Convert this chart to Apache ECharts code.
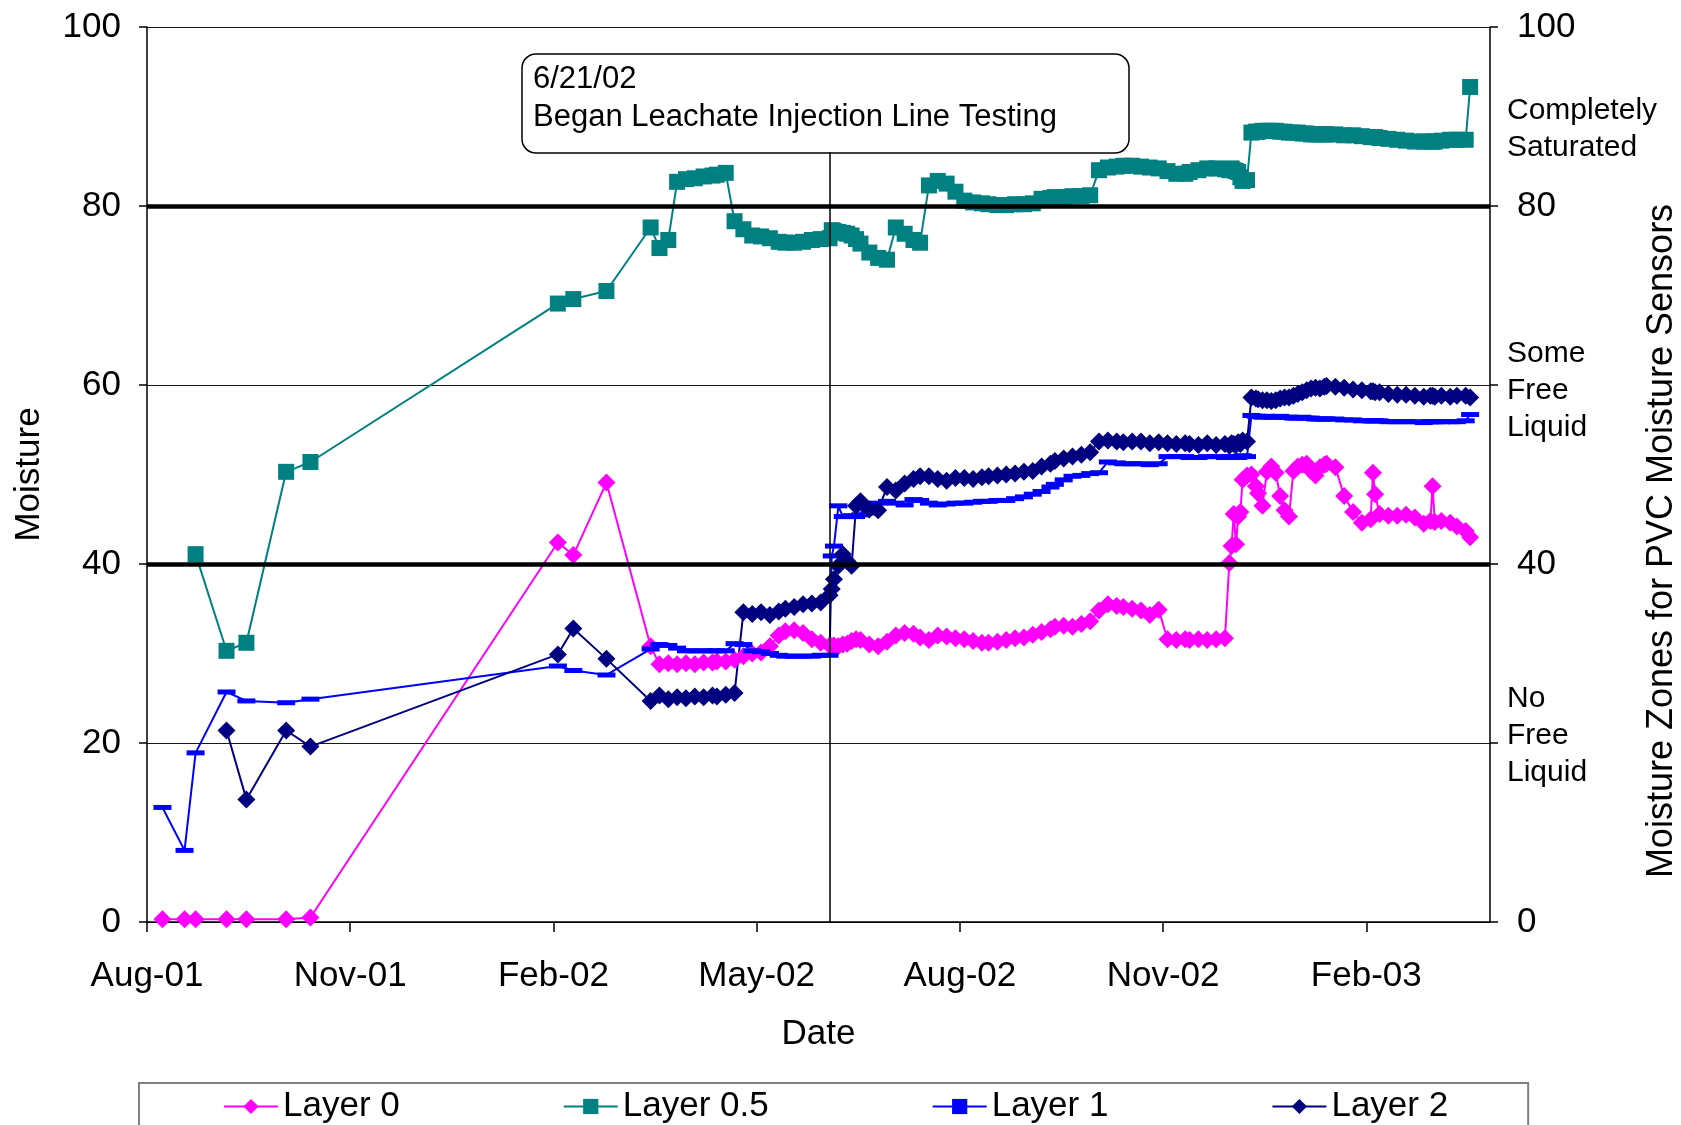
<!DOCTYPE html>
<html>
<head>
<meta charset="utf-8">
<script src="https://cdn.jsdelivr.net/npm/echarts@6/dist/echarts.min.js"></script>
<style>
  html, body { margin: 0; padding: 0; background: #ffffff; }
  #chart { width: 1681px; height: 1125px; }
</style>
</head>
<body>
<div id="chart"></div>
<script>
// Sensor reading dates (manual readings in 2001/early 2002, then the logger period)
const readingDates = [
  '2001-08-23','2001-09-02','2001-09-07','2001-09-21','2001-09-30','2001-10-18','2001-10-29','2002-02-18','2002-02-25','2002-03-12',
  '2002-04-01','2002-04-05','2002-04-09','2002-04-13','2002-04-17','2002-04-21','2002-04-25','2002-04-29',
  '2002-05-01','2002-05-05','2002-05-09','2002-05-13','2002-05-17','2002-05-21','2002-05-25','2002-05-29',
  '2002-06-01','2002-06-05','2002-06-09','2002-06-13','2002-06-17','2002-06-21','2002-06-22','2002-06-23','2002-06-25','2002-06-27','2002-06-29',
  '2002-07-01','2002-07-03','2002-07-05','2002-07-09','2002-07-13','2002-07-17','2002-07-21','2002-07-25','2002-07-29',
  '2002-08-01','2002-08-05','2002-08-09','2002-08-13','2002-08-17','2002-08-21','2002-08-25','2002-08-29',
  '2002-09-01','2002-09-05','2002-09-09','2002-09-13','2002-09-17','2002-09-21','2002-09-25','2002-09-29',
  '2002-10-01','2002-10-05','2002-10-09','2002-10-13','2002-10-17','2002-10-21','2002-10-25','2002-10-29',
  '2002-11-01','2002-11-05','2002-11-09','2002-11-13','2002-11-17','2002-11-21','2002-11-25','2002-11-29',
  '2002-12-01','2002-12-05','2002-12-09','2002-12-13','2002-12-17','2002-12-19','2002-12-20','2002-12-21','2002-12-22','2002-12-23','2002-12-24','2002-12-25','2002-12-27','2002-12-29','2002-12-31',
  '2003-01-01','2003-01-03','2003-01-05','2003-01-07','2003-01-09','2003-01-11','2003-01-13','2003-01-15','2003-01-17','2003-01-19','2003-01-21','2003-01-23','2003-01-25','2003-01-27','2003-01-29','2003-01-31',
  '2003-02-01','2003-02-05','2003-02-09','2003-02-13','2003-02-17','2003-02-21','2003-02-22','2003-02-23','2003-02-25',
  '2003-03-01','2003-03-05','2003-03-09','2003-03-13','2003-03-17','2003-03-20','2003-03-21','2003-03-22','2003-03-25','2003-03-29',
  '2003-04-01','2003-04-05','2003-04-07'
];

const layer0 = [
  0.3, 0.3, 0.3, 0.3, 0.3, 0.3, 0.5, 42.4, 41.0, 49.1,
  30.8, 28.8, 28.9, 28.8, 28.9, 28.8, 29.0, 29.0,
  29.1, 29.1, 29.3, 29.7, 30.0, 30.1, 30.8, 32.0,
  32.5, 32.6, 32.3, 31.6, 31.2, 30.9, 30.8, 30.9, 30.8, 31.0, 31.1,
  31.4, 31.6, 31.5, 31.0, 30.8, 31.3, 32.0, 32.3, 32.2,
  31.8, 31.5, 32.0, 31.9, 31.7, 31.6, 31.4, 31.2,
  31.2, 31.3, 31.5, 31.7, 31.8, 32.1, 32.4, 32.7,
  33.0, 33.1, 33.0, 33.3, 33.6, 34.8, 35.5, 35.3,
  35.2, 35.0, 34.8, 34.3, 34.9, 31.6, 31.5, 31.6,
  31.5, 31.6, 31.5, 31.6, 31.7, 40.1, 42.0, 45.6, 42.2, 45.3, 45.8, 49.4, 49.9, 50.0, 48.7,
  47.9, 46.5, 50.3, 50.9, 50.2, 47.6, 46.0, 45.3, 50.4, 50.9, 51.1, 51.2, 50.4, 49.9, 50.8, 51.1,
  51.2, 50.8, 47.6, 45.8, 44.6, 45.0, 50.2, 47.8, 45.6,
  45.4, 45.4, 45.5, 45.2, 44.5, 44.8, 48.7, 44.7, 44.8, 44.6,
  44.2, 43.7, 43.0
];

const layer05 = [
  null, null, 41.1, 30.3, 31.2, 50.3, 51.4, 69.1, 69.6, 70.5,
  77.6, 75.3, 76.2, 82.7, 83.0, 83.1, 83.3, 83.4,
  83.5, 83.7, 78.3, 77.4, 76.7, 76.6, 76.4, 76.0,
  75.9, 75.9, 76.0, 76.2, 76.3, 76.4, 77.3, 77.2, 77.1, 77.0, 76.9,
  76.7, 76.3, 75.8, 74.8, 74.2, 74.0, 77.6, 76.9, 76.2,
  75.9, 82.3, 82.8, 82.5, 81.6, 80.6, 80.4, 80.3,
  80.2, 80.1, 80.1, 80.2, 80.2, 80.3, 80.8, 80.9,
  81.0, 81.0, 81.1, 81.1, 81.2, 84.0, 84.3, 84.4,
  84.5, 84.5, 84.4, 84.3, 84.2, 83.9, 83.6, 83.6,
  83.8, 84.0, 84.2, 84.2, 84.1, 84.0, 84.2, 84.0, 83.9, 83.8, 83.2, 82.8, 82.9, 88.2, 88.3,
  88.3, 88.4, 88.4, 88.4, 88.4, 88.3, 88.3, 88.2, 88.2, 88.2, 88.1, 88.1, 88.0, 88.0, 88.0, 88.0,
  88.0, 88.0, 87.9, 87.9, 87.8, 87.7, 87.7, 87.7, 87.6,
  87.5, 87.4, 87.3, 87.2, 87.2, 87.2, 87.2, 87.2, 87.3, 87.4,
  87.4, 87.4, 93.3
];

const layer1 = [
  12.8, 8.0, 18.9, 25.7, 24.7, 24.5, 24.9, 28.6, 28.1, 27.6,
  30.5, 31.0, 30.9, 30.6, 30.3, 30.3, 30.3, 30.3,
  30.3, 30.3, 31.1, 31.0, 30.3, 30.2, 30.0, 29.8,
  29.7, 29.7, 29.7, 29.7, 29.8, 29.8, 40.9, 42.0, 46.5, 45.3, 45.3,
  45.4, 45.3, 45.5, 45.7, 46.8, 47.0, 46.8, 46.6, 47.2,
  47.1, 46.8, 46.6, 46.7, 46.8, 46.8, 46.9, 47.0,
  47.0, 47.1, 47.1, 47.3, 47.5, 47.8, 48.1, 48.6,
  48.9, 49.4, 49.8, 49.9, 50.1, 50.2, 51.4, 51.3,
  51.2, 51.2, 51.2, 51.1, 51.2, 52.0, 52.0, 52.0,
  51.9, 51.9, 52.0, 52.0, 51.9, 52.0, 51.9, 52.0, 52.0, 51.9, 52.0, 52.1, 52.0, 56.6, 56.5,
  56.5, 56.4, 56.5, 56.4, 56.4, 56.5, 56.4, 56.4, 56.3, 56.3, 56.4, 56.3, 56.3, 56.2, 56.2, 56.2,
  56.2, 56.2, 56.1, 56.1, 56.0, 56.0, 56.0, 56.0, 56.0,
  55.9, 55.9, 55.9, 55.9, 55.8, 55.9, 55.9, 55.9, 55.9, 55.9,
  55.9, 56.0, 56.7
];

const layer2 = [
  null, null, null, 21.4, 13.7, 21.4, 19.6, 29.9, 32.8, 29.4,
  24.7, 25.3, 24.9, 25.1, 25.0, 25.2, 25.1, 25.3,
  25.2, 25.4, 25.6, 34.6, 34.4, 34.6, 34.3, 34.7,
  35.0, 35.2, 35.5, 35.6, 35.7, 36.5, 37.2, 38.3, 39.8, 41.1, 40.3,
  39.8, 46.5, 47.0, 46.1, 46.0, 48.6, 48.2, 49.0, 49.5,
  49.8, 49.8, 49.5, 49.3, 49.6, 49.6, 49.5, 49.7,
  49.8, 49.9, 50.0, 50.1, 50.3, 50.4, 50.9, 51.2,
  51.5, 51.8, 52.0, 52.2, 52.5, 53.7, 53.8, 53.7,
  53.6, 53.7, 53.7, 53.5, 53.6, 53.5, 53.4, 53.5,
  53.4, 53.3, 53.5, 53.3, 53.4, 53.2, 53.5, 53.4, 53.3, 53.6, 53.4, 53.8, 53.7, 58.6, 58.5,
  58.4, 58.3, 58.3, 58.2, 58.3, 58.5, 58.6, 58.6, 58.8, 59.0, 59.2, 59.4, 59.6, 59.7, 59.6, 59.8,
  59.9, 59.8, 59.7, 59.5, 59.4, 59.3, 59.3, 59.2, 59.2,
  59.0, 58.9, 58.9, 58.8, 58.7, 58.8, 58.8, 58.7, 58.8, 58.7,
  58.8, 58.8, 58.6
];

const seriesNames = ['Layer 0', 'Layer 0.5', 'Layer 1', 'Layer 2'];

// Date axis: start, end and major tick dates (every 92 days)
const axisStart = '2001-08-16';
const axisEnd = '2003-04-16';
const tickDates = ['2001-08-16','2001-11-16','2002-02-16','2002-05-19','2002-08-19','2002-11-19','2003-02-19'];
const monthNames = ['Jan','Feb','Mar','Apr','May','Jun','Jul','Aug','Sep','Oct','Nov','Dec'];

// Moisture axis and zone boundaries
const rightAxisLabels = [0, 40, 80, 100];
const zoneBoundaries = [40, 80];
const zoneLabels = ['Completely\nSaturated', 'Some\nFree\nLiquid', 'No\nFree\nLiquid'];

// Leachate injection annotation
const injectionDate = '2002-06-21';
const calloutBase = 86;
const calloutLines = ['6/21/02', 'Began Leachate Injection Line Testing'];

const FONT = '"Liberation Sans", Arial, Helvetica, sans-serif';

function toUTC(s) {
  const p = s.split('-').map(Number);
  return Date.UTC(p[0], p[1] - 1, p[2]);
}
const origin = toUTC(axisStart);
function dayNum(s) { return Math.round((toUTC(s) - origin) / 86400000); }
function dayLabel(v) {
  const d = new Date(origin + v * 86400000);
  return monthNames[d.getUTCMonth()] + '-' + String(d.getUTCFullYear() % 100).padStart(2, '0');
}
function pairs(values) {
  const out = [];
  readingDates.forEach((d, i) => { if (values[i] !== null) out.push([dayNum(d), values[i]]); });
  return out;
}

const tickDays = tickDates.map(dayNum);
const injectionDay = dayNum(injectionDate);

const chart = echarts.init(document.getElementById('chart'), null, { renderer: 'canvas' });

const baseSeries = {
  type: 'line',
  showSymbol: true,
  showAllSymbol: true,
  connectNulls: true,
  animation: false,
  emphasis: { disabled: true }
};

function layerSeries(i, values, color, symbol, size) {
  return Object.assign({}, baseSeries, {
    name: seriesNames[i],
    data: pairs(values),
    color: color,
    symbol: symbol,
    symbolSize: size,
    itemStyle: { color: color },
    lineStyle: { width: 2, color: color }
  });
}

const option = {
  backgroundColor: '#ffffff',
  animation: false,
  textStyle: { fontFamily: FONT, color: '#000' },
  grid: { left: 147, top: 27, width: 1343, height: 895, containLabel: false },
  legend: {
    data: seriesNames,
    left: 139,
    top: 1083,
    padding: [6, 80, 40, 84],
    itemGap: 163,
    itemWidth: 54,
    itemHeight: 19,
    borderColor: '#808080',
    borderWidth: 2,
    selectedMode: false,
    textStyle: { fontSize: 35, fontFamily: FONT, color: '#000' }
  },
  xAxis: {
    type: 'value',
    min: dayNum(axisStart),
    max: dayNum(axisEnd),
    name: 'Date',
    nameLocation: 'middle',
    nameGap: 95,
    nameTextStyle: { fontSize: 35, fontFamily: FONT, color: '#000' },
    axisLine: { show: true, onZero: false, lineStyle: { color: '#000', width: 1.5 } },
    axisTick: { show: true, length: 10, customValues: tickDays, lineStyle: { color: '#000', width: 1.5 } },
    axisLabel: {
      customValues: tickDays,
      formatter: dayLabel,
      fontSize: 35, fontFamily: FONT, color: '#000', margin: 37
    },
    splitLine: { show: false }
  },
  yAxis: [
    {
      type: 'value', position: 'left', min: 0, max: 100, interval: 20,
      name: 'Moisture', nameLocation: 'middle', nameGap: 100, nameRotate: 90,
      nameTextStyle: { fontSize: 35, fontFamily: FONT, color: '#000' },
      axisLine: { show: true, lineStyle: { color: '#000', width: 1.5 } },
      axisTick: { show: true, length: 8, lineStyle: { color: '#000', width: 1.5 } },
      axisLabel: { fontSize: 35, fontFamily: FONT, color: '#000', margin: 26 },
      splitLine: { show: true, lineStyle: { color: '#1a1a1a', width: 1.2 } }
    },
    {
      type: 'value', position: 'right', min: 0, max: 100, interval: 20,
      axisLine: { show: true, lineStyle: { color: '#000', width: 1.5 } },
      axisTick: { show: true, length: 8, lineStyle: { color: '#000', width: 1.5 } },
      axisLabel: {
        fontSize: 35, fontFamily: FONT, color: '#000', margin: 27,
        formatter: v => rightAxisLabels.indexOf(v) >= 0 ? String(v) : ''
      },
      splitLine: { show: false }
    }
  ],
  series: [
    layerSeries(0, layer0, '#FF00FF', 'diamond', 18),
    layerSeries(1, layer05, '#008080', 'rect', 16),
    layerSeries(2, layer1, '#0000FF', 'rect', [18, 5]),
    Object.assign(layerSeries(3, layer2, '#000080', 'diamond', 18), {
      markLine: {
        silent: true,
        symbol: 'none',
        animation: false,
        label: { show: false },
        emphasis: { disabled: true },
        data: zoneBoundaries.map(v => ({ yAxis: v, lineStyle: { color: '#000', width: 4.5, type: 'solid' } }))
          .concat([[
            { coord: [injectionDay, 0], lineStyle: { color: '#000', width: 1.5, type: 'solid' } },
            { coord: [injectionDay, calloutBase] }
          ]])
      }
    })
  ],
  graphic: [
    {
      type: 'group', z: 100,
      children: [
        {
          type: 'rect',
          shape: { x: 522, y: 54, width: 607, height: 99, r: 14 },
          style: { fill: '#ffffff', stroke: '#000', lineWidth: 1.5 }
        },
        {
          type: 'text', x: 533, y: 79,
          style: { text: calloutLines[0], fontSize: 31, fontFamily: FONT, fill: '#000', align: 'left', verticalAlign: 'middle' }
        },
        {
          type: 'text', x: 533, y: 117,
          style: { text: calloutLines[1], fontSize: 31, fontFamily: FONT, fill: '#000', align: 'left', verticalAlign: 'middle' }
        }
      ]
    },
    {
      type: 'text', x: 1507, y: 92.5, z: 100,
      style: { text: zoneLabels[0], fontSize: 30, fontFamily: FONT, fill: '#000', lineHeight: 37, align: 'left', verticalAlign: 'top' }
    },
    {
      type: 'text', x: 1507, y: 335.5, z: 100,
      style: { text: zoneLabels[1], fontSize: 30, fontFamily: FONT, fill: '#000', lineHeight: 37, align: 'left', verticalAlign: 'top' }
    },
    {
      type: 'text', x: 1507, y: 680.5, z: 100,
      style: { text: zoneLabels[2], fontSize: 30, fontFamily: FONT, fill: '#000', lineHeight: 37, align: 'left', verticalAlign: 'top' }
    },
    {
      type: 'text', x: 1662, y: 541, rotation: Math.PI / 2, z: 100,
      style: { text: 'Moisture Zones for PVC Moisture Sensors', fontSize: 36, fontFamily: FONT, fill: '#000', align: 'center', verticalAlign: 'middle' }
    }
  ]
};

chart.setOption(option);
</script>
</body>
</html>
